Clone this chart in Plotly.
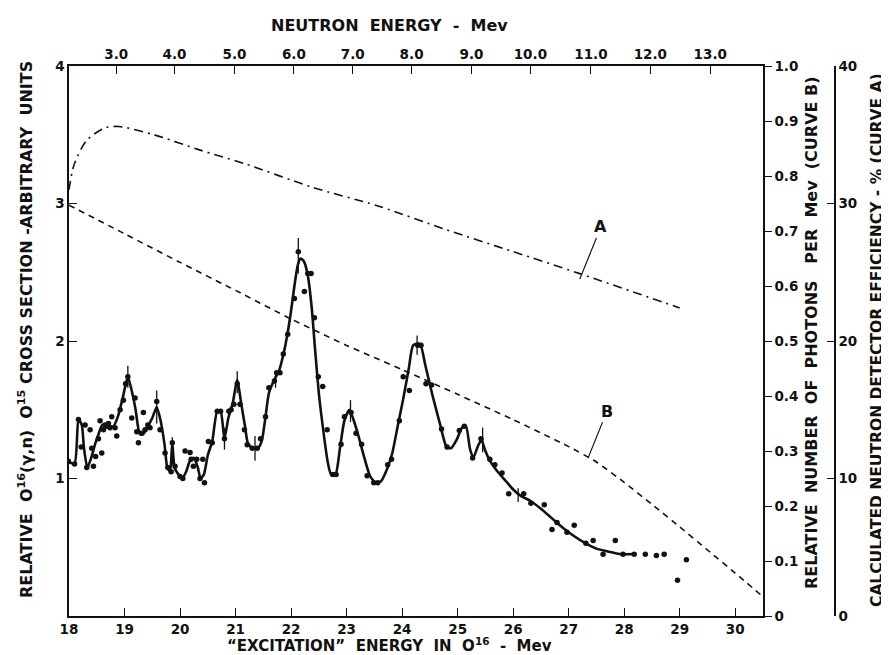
import plotly.graph_objects as go

# ---------------- data ----------------
# solid curve through the measurements (excitation energy MeV, relative cross section)
line_x = [17.98, 18.10, 18.17, 18.23, 18.27, 18.33, 18.40, 18.47, 18.53, 18.60, 18.70, 18.80, 18.88, 18.97,
          19.06, 19.14, 19.20, 19.27, 19.33, 19.42, 19.50, 19.58, 19.65, 19.72, 19.77, 19.82, 19.86, 19.90,
          19.97, 20.04, 20.11, 20.18, 20.25, 20.32, 20.37, 20.43, 20.50, 20.58, 20.67, 20.73, 20.80, 20.87,
          20.95, 21.03, 21.10, 21.17, 21.22, 21.30, 21.40, 21.47, 21.54, 21.60, 21.70, 21.78, 21.86, 21.93,
          22.00, 22.06, 22.12, 22.17, 22.23, 22.30, 22.37, 22.43, 22.50, 22.58, 22.66, 22.72, 22.80, 22.88,
          22.96, 23.05, 23.13, 23.22, 23.32, 23.42, 23.52, 23.62, 23.72, 23.82, 23.92, 24.02, 24.12, 24.20,
          24.32, 24.42, 24.55, 24.68, 24.80, 24.88, 24.98, 25.08, 25.15, 25.22, 25.28, 25.37, 25.43, 25.50,
          25.58, 25.70, 25.85, 26.00, 26.15, 26.30, 26.50, 26.70, 26.90, 27.10, 27.30, 27.50, 27.70, 27.95, 28.17]
line_y = [1.12, 1.11, 1.43, 1.39, 1.22, 1.08, 1.15, 1.25, 1.32, 1.39, 1.38, 1.38, 1.45, 1.59,
          1.74, 1.62, 1.50, 1.33, 1.32, 1.38, 1.44, 1.52, 1.42, 1.25, 1.08, 1.05, 1.26, 1.08,
          1.03, 1.00, 1.05, 1.13, 1.15, 1.08, 1.00, 1.03, 1.17, 1.27, 1.49, 1.49, 1.29, 1.44,
          1.55, 1.72, 1.55, 1.38, 1.26, 1.22, 1.22, 1.27, 1.45, 1.62, 1.72, 1.78, 1.90, 2.04,
          2.22, 2.40, 2.55, 2.60, 2.58, 2.48, 2.25, 1.95, 1.62, 1.35, 1.12, 1.03, 1.03, 1.22,
          1.42, 1.50, 1.42, 1.30, 1.15, 1.02, 0.97, 0.98, 1.06, 1.18, 1.38, 1.58, 1.80, 1.97,
          1.98, 1.82, 1.60, 1.40, 1.23, 1.22, 1.28, 1.37, 1.38, 1.22, 1.15, 1.24, 1.28, 1.20,
          1.13, 1.06, 0.99, 0.92, 0.87, 0.84, 0.78, 0.71, 0.64, 0.58, 0.53, 0.49, 0.47, 0.45, 0.45]

# measured points
pts_x = [17.99, 18.10, 18.17, 18.22, 18.29, 18.32, 18.38, 18.41, 18.44, 18.48, 18.53, 18.56, 18.59, 18.62,
         18.65, 18.68, 18.71, 18.74, 18.77, 18.83, 18.86, 18.92, 18.98, 19.02, 19.06, 19.13, 19.19, 19.22,
         19.25, 19.30, 19.34, 19.37, 19.42, 19.46, 19.58, 19.64, 19.73, 19.78, 19.84, 19.86, 19.91, 20.00,
         20.05, 20.09, 20.18, 20.20, 20.24, 20.30, 20.36, 20.41, 20.44, 20.51, 20.58, 20.67, 20.73, 20.80,
         20.88, 20.92, 20.97, 21.03,
         21.08, 21.16, 21.21, 21.30, 21.39, 21.45, 21.54, 21.60, 21.70, 21.74, 21.80, 21.86, 21.94, 22.06,
         22.13, 22.24, 22.30, 22.36, 22.42, 22.49, 22.57, 22.65, 22.75, 22.81, 22.90, 22.96, 23.08, 23.17,
         23.27, 23.37, 23.49, 23.56, 23.74, 23.81, 23.95, 24.02, 24.13, 24.28, 24.34, 24.43, 24.53, 24.71,
         24.81, 25.03, 25.12, 25.27,
         25.42, 25.58, 25.67, 25.80, 25.92, 26.19, 26.32, 26.56, 26.70, 26.79, 26.97, 27.10, 27.31, 27.44,
         27.62, 27.84, 27.98, 28.18, 28.38, 28.58, 28.72, 28.96, 29.12]
pts_y = [1.125, 1.105, 1.43, 1.23, 1.39, 1.08, 1.355, 1.22, 1.09, 1.16, 1.29, 1.42, 1.185, 1.355,
         1.39, 1.38, 1.40, 1.37, 1.45, 1.37, 1.31, 1.50, 1.57, 1.69, 1.74, 1.44, 1.585, 1.34,
         1.26, 1.33, 1.48, 1.355, 1.39, 1.37, 1.56, 1.355, 1.185, 1.08, 1.05, 1.26, 1.09, 1.015,
         1.00, 1.20, 1.19, 1.14, 1.09, 1.14, 1.00, 1.14, 0.97, 1.27, 1.26, 1.49, 1.49, 1.29,
         1.49, 1.50, 1.54, 1.69,
         1.54, 1.355, 1.245, 1.22, 1.22, 1.29, 1.45, 1.66, 1.71, 1.77, 1.77, 1.905, 2.05, 2.31,
         2.65, 2.36, 2.49, 2.49, 2.17, 1.74, 1.67, 1.355, 1.03, 1.03, 1.25, 1.45, 1.48, 1.33,
         1.25, 1.02, 0.97, 0.97, 1.10, 1.14, 1.42, 1.74, 1.64, 1.97, 1.97, 1.69, 1.68, 1.36,
         1.23, 1.35, 1.38, 1.15,
         1.29, 1.14, 1.10, 1.04, 0.89, 0.89, 0.82, 0.81, 0.63, 0.68, 0.61, 0.66, 0.53, 0.55,
         0.45, 0.55, 0.45, 0.45, 0.45, 0.44, 0.45, 0.26, 0.41]

# statistical error bars
err_x = [19.06, 19.58, 19.86, 20.80, 21.03, 21.35, 21.72, 22.13, 23.07, 24.27, 25.45, 26.09]
err_y = [1.74, 1.52, 1.20, 1.29, 1.70, 1.22, 1.72, 2.62, 1.49, 1.97, 1.28, 0.88]
err_h = [0.08, 0.12, 0.10, 0.08, 0.08, 0.09, 0.06, 0.13, 0.08, 0.07, 0.09, 0.05]

# curve A: calculated neutron detector efficiency (%)
curveA_x = [18.0, 18.09, 18.32, 18.65, 18.9, 19.53, 20.35, 21.16, 22.37, 23.58, 24.79, 26.0, 27.2, 29.0]
curveA_y = [31.0, 32.8, 34.6, 35.5, 35.6, 35.0, 33.9, 32.9, 31.2, 29.8, 28.1, 26.5, 24.9, 22.4]

# curve B: relative number of photons per MeV
curveB_x = [18.0, 19.0, 20.0, 21.0, 22.0, 23.0, 24.0, 25.0, 26.0, 27.0, 27.5, 28.0, 28.5, 29.0, 29.5, 30.0, 30.5]
curveB_y = [0.747, 0.695, 0.643, 0.592, 0.540, 0.492, 0.448, 0.403, 0.357, 0.308, 0.280, 0.243, 0.203, 0.162, 0.120, 0.078, 0.035]

# axes ticks
bottom_ticks = list(range(18, 31))
top_tick_pos = [18.85, 19.90, 20.98, 22.05, 23.11, 24.17, 25.25, 26.31, 27.40, 28.47, 29.55]
top_tick_text = ["3.0", "4.0", "5.0", "6.0", "7.0", "8.0", "9.0", "10.0", "11.0", "12.0", "13.0"]
left_ticks = [1, 2, 3, 4]
right1_ticks = [0, 0.1, 0.2, 0.3, 0.4, 0.5, 0.6, 0.7, 0.8, 0.9, 1.0]
right1_text = ["0", "0.1", "0.2", "0.3", "0.4", "0.5", "0.6", "0.7", "0.8", "0.9", "1.0"]
right2_ticks = [0, 10, 20, 30, 40]

# ---------------- figure ----------------
FONT = "DejaVu Sans"
ink = "#111111"
tickfont = dict(family=FONT, size=13.5, color=ink, weight="bold")


def tfont(size):
    return dict(family=FONT, size=size, color=ink, weight="bold")


fig = go.Figure()
fig.add_trace(go.Scatter(x=line_x, y=line_y, mode="lines",
                         line=dict(color=ink, width=2.6, shape="spline", smoothing=0.6),
                         hoverinfo="skip", showlegend=False))
fig.add_trace(go.Scatter(x=pts_x, y=pts_y, mode="markers",
                         marker=dict(color=ink, size=5.5), showlegend=False))
fig.add_trace(go.Scatter(x=err_x, y=err_y, mode="markers", marker=dict(size=1, color=ink),
                         error_y=dict(type="data", array=err_h, visible=True, color=ink,
                                      thickness=1.3, width=0), showlegend=False))
fig.add_trace(go.Scatter(x=curveB_x, y=curveB_y, yaxis="y2", mode="lines",
                         line=dict(color=ink, width=1.6, dash="6px,5px", shape="spline", smoothing=0.5),
                         showlegend=False))
fig.add_trace(go.Scatter(x=curveA_x, y=curveA_y, yaxis="y3", mode="lines",
                         line=dict(color=ink, width=1.6, dash="9px,5px,2px,5px", shape="spline", smoothing=0.8),
                         showlegend=False))
fig.add_trace(go.Scatter(x=top_tick_pos, y=[None] * len(top_tick_pos), xaxis="x2",
                         mode="markers", showlegend=False, hoverinfo="skip"))

W, H = 889, 655
ML, MR, MT, MB = 61, 62, 58, 47
plot_w = W - ML - MR
plot_h = H - MT - MB
xdom_end = (755 - ML) / plot_w

axis_common = dict(showline=True, linecolor=ink, linewidth=1.5, showgrid=False, zeroline=False,
                   tickcolor=ink, tickwidth=1.3, tickfont=tickfont)

fig.update_layout(
    width=W, height=H,
    margin=dict(l=ML, r=MR, t=MT, b=MB),
    paper_bgcolor="white", plot_bgcolor="white",
    xaxis=dict(domain=[0, xdom_end], range=[18, 30.5], tickvals=bottom_ticks,
               ticks="inside", ticklen=8, anchor="y", **axis_common),
    xaxis2=dict(domain=[0, xdom_end], range=[18, 30.5], overlaying="x", side="top", anchor="y",
                tickvals=top_tick_pos, ticktext=top_tick_text, ticks="inside", ticklen=8, **axis_common),
    yaxis=dict(range=[0, 4], tickvals=left_ticks, ticks="inside", ticklen=8, anchor="x", **axis_common),
    yaxis2=dict(range=[0, 1], overlaying="y", side="right", anchor="x",
                tickvals=right1_ticks, ticktext=right1_text, ticks="outside", ticklen=7, **axis_common),
    yaxis3=dict(range=[0, 40], overlaying="y", side="right", anchor="free", position=1.0,
                tickvals=right2_ticks, ticks="inside", ticklen=7, **axis_common),
)


def px_x(px):
    return (px - ML) / plot_w


def px_y(py):
    return (H - MB - py) / plot_h


def title(text, px, py, size, angle=0):
    fig.add_annotation(text=text, xref="paper", yref="paper", x=px_x(px), y=px_y(py),
                       xanchor="center", yanchor="middle", textangle=angle,
                       showarrow=False, font=tfont(size))


title("RELATIVE  O<sup>16</sup>(γ,n)  O<sup>15</sup> CROSS SECTION -ARBITRARY  UNITS", 17, 322, 16, -90)
title("“EXCITATION”  ENERGY  IN  O<sup>16</sup>  -  Mev", 381, 637, 15)
title("NEUTRON  ENERGY  -  Mev", 381, 18, 16)
title("RELATIVE  NUMBER  OF  PHOTONS   PER  Mev  (CURVE B)", 803, 325, 16, -90)
title("CALCULATED NEUTRON DETECTOR EFFICIENCY - % (CURVE A)", 869, 332, 15.5, -90)

# curve labels with pointer lines
fig.add_annotation(text="A", x=27.2, y=2.45, ax=27.58, ay=2.83, xref="x", yref="y",
                   axref="x", ayref="y", showarrow=True, arrowhead=0, arrowwidth=1.2,
                   arrowcolor=ink, font=tfont(16), standoff=0)
fig.add_annotation(text="B", x=27.35, y=1.15, ax=27.69, ay=1.49, xref="x", yref="y",
                   axref="x", ayref="y", showarrow=True, arrowhead=0, arrowwidth=1.2,
                   arrowcolor=ink, font=tfont(16), standoff=0)

fig.write_html("out.html")
